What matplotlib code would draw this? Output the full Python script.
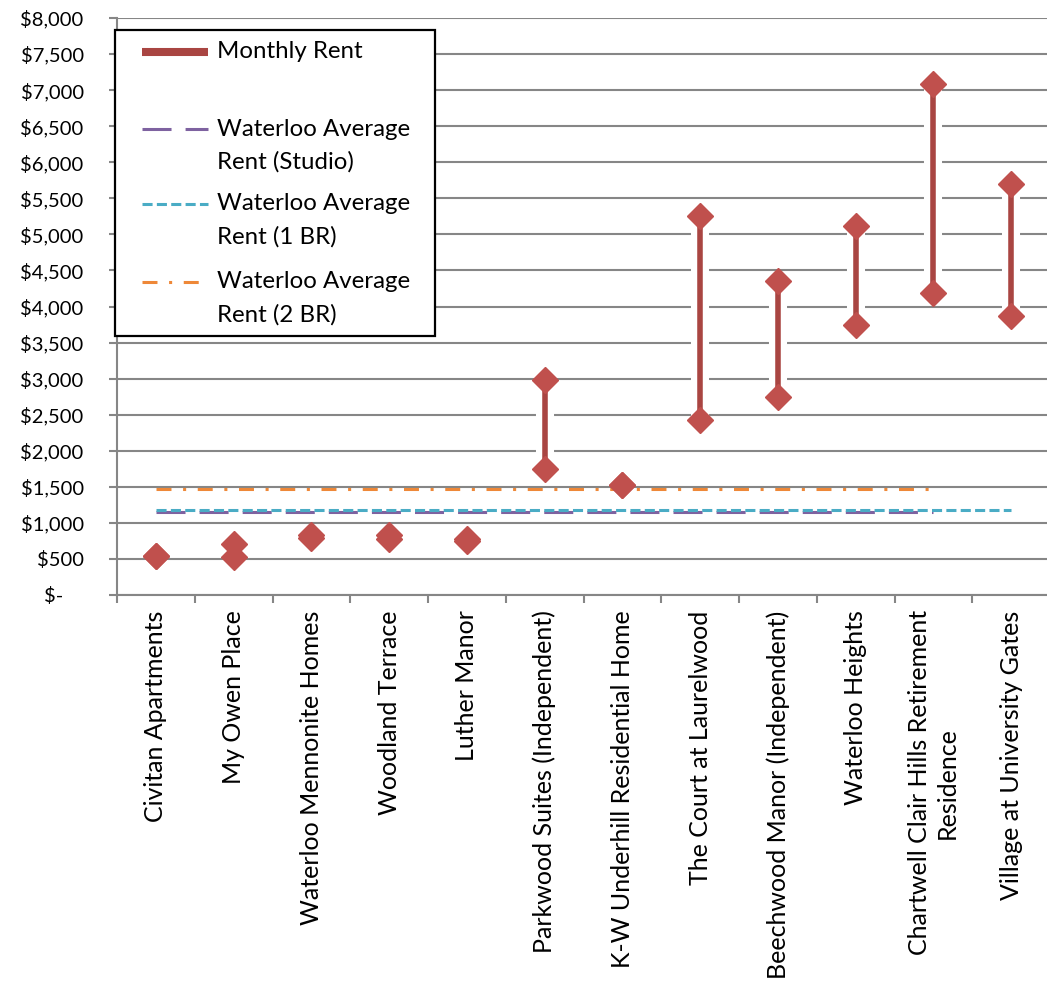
import numpy as np
import matplotlib.pyplot as plt
import matplotlib.patheffects as pe
from matplotlib.lines import Line2D
from matplotlib.patches import Rectangle
from matplotlib.ticker import FuncFormatter
from matplotlib.transforms import ScaledTranslation

plt.rcParams['font.family'] = ['Lato', 'DejaVu Sans']

names = ['Civitan Apartments', 'My Owen Place', 'Waterloo Mennonite Homes',
         'Woodland Terrace', 'Luther Manor', 'Parkwood Suites (Independent)',
         'K-W Underhill Residential Home', 'The Court at Laurelwood',
         'Beechwood Manor (Independent)', 'Waterloo Heights',
         'Chartwell Clair Hills Retirement\nResidence', 'Village at University Gates']
rent_low = [535, 530, 790, 775, 750, 1750, 1520, 2420, 2750, 3750, 4190, 3870]
rent_high = [545, 705, 830, 830, 775, 2980, 1520, 5255, 4350, 5120, 7090, 5700]
nan = np.nan
avg_studio = [1150, 1150, 1150, 1150, 1150, 1150, 1150, 1150, 1150, 1150, 1150, nan]
avg_1br = [1172, 1172, 1172, 1172, 1172, 1172, 1172, 1172, 1172, 1172, 1172, 1172]
avg_2br = [1465, 1465, 1465, 1465, 1465, 1465, 1465, 1465, 1465, 1465, 1465, nan]
y_ticks = [0, 500, 1000, 1500, 2000, 2500, 3000, 3500, 4000,
           4500, 5000, 5500, 6000, 6500, 7000, 7500, 8000]

W, H = 1047, 983
line_col = '#A94542'
dot_col = '#C0504D'
purple = '#7E62A0'
teal = '#4AACC5'
orange = '#EE8838'
grey = '#868686'
fs_y = 14.5
fs_x = 18
fs_leg = 17.3

fig = plt.figure(figsize=(W / 100, H / 100), dpi=100)
ax = fig.add_axes([117 / W, 1 - 595 / H, (1050 - 117) / W, (595 - 18) / H])

x = np.arange(len(names))
ax.set_xlim(-0.5, len(names) - 0.5)
ax.set_ylim(0, 8000)
ax.set_yticks(y_ticks)
ax.grid(axis='y', color=grey, lw=1.5)
ax.set_axisbelow(True)

# high-low bars, white border cuts the gridlines like the original
for xi, lo, hi in zip(x, rent_low, rent_high):
    ax.plot([xi, xi], [lo, hi], color=line_col, lw=4, solid_capstyle='butt', zorder=2,
            path_effects=[pe.Stroke(linewidth=13, foreground='white'), pe.Normal()])

ax.plot(x, avg_studio, color=purple, lw=2.2, dashes=(9.5, 4.6), zorder=3)
ax.plot(x, avg_1br, color=teal, lw=2.2, dashes=(3.3, 1.4), zorder=3)
ax.plot(x, avg_2br, color=orange, lw=2.2, dashes=(4.9, 3.8, 1.0, 3.8), zorder=3)

ax.plot(x, rent_low, 'D', ms=13, color=dot_col, mec=dot_col, zorder=4)
ax.plot(x, rent_high, 'D', ms=13, color=dot_col, mec=dot_col, zorder=4)

for s in ['top', 'right']:
    ax.spines[s].set_visible(False)
for s in ['left', 'bottom']:
    ax.spines[s].set_color(grey)
    ax.spines[s].set_linewidth(1.5)

ax.yaxis.set_major_formatter(FuncFormatter(lambda v, _: '$-' if v == 0 else f'${v:,.0f}'))
ax.tick_params(axis='y', length=6, width=1.5, color=grey, pad=18, labelsize=fs_y)
ax.set_xticks(x)
ax.set_xticklabels(names, rotation=90, fontsize=fs_x)
for lbl in ax.get_xticklabels():
    lbl.set_multialignment('center')
ax.tick_params(axis='x', which='major', length=0, pad=11)
ax.set_xticks(np.arange(-0.5, len(names), 1), minor=True)
ax.tick_params(axis='x', which='minor', length=6, width=1.5, color=grey)

# accounting style zero: "$-" sits left of the other labels
zero_tick = ax.yaxis.get_major_ticks()[0]
zero_tick.label1.set_transform(zero_tick.label1.get_transform() +
                               ScaledTranslation(-0.2, 0, fig.dpi_scale_trans))


# legend drawn by hand so keys line up with the first text line
def fx(p):
    return p / W


def fy(p):
    return 1 - p / H


fig.add_artist(Rectangle((fx(115), fy(336)), fx(435) - fx(115), fy(30) - fy(336),
                         transform=fig.transFigure, fc='white', ec='black', lw=1.6, zorder=5))
keys = [
    (52, dict(color=line_col, lw=5.8, solid_capstyle='butt'), ['Monthly Rent']),
    (129, dict(color=purple, lw=2.2, dashes=(9.5, 4.6)), ['Waterloo Average', 'Rent (Studio)']),
    (204, dict(color=teal, lw=2.2, dashes=(3.3, 1.4)), ['Waterloo Average', 'Rent (1 BR)']),
    (282, dict(color=orange, lw=2.2, dashes=(4.9, 3.8, 1.0, 3.8)), ['Waterloo Average', 'Rent (2 BR)']),
]
for yk, style, lines in keys:
    fig.add_artist(Line2D([fx(142), fx(208)], [fy(yk), fy(yk)], transform=fig.transFigure,
                          zorder=6, **style))
    for i, txt in enumerate(lines):
        fig.text(fx(217), fy(yk + 33 * i), txt, va='center', ha='left', fontsize=fs_leg, zorder=6)

fig.savefig('out.png', dpi=100)
